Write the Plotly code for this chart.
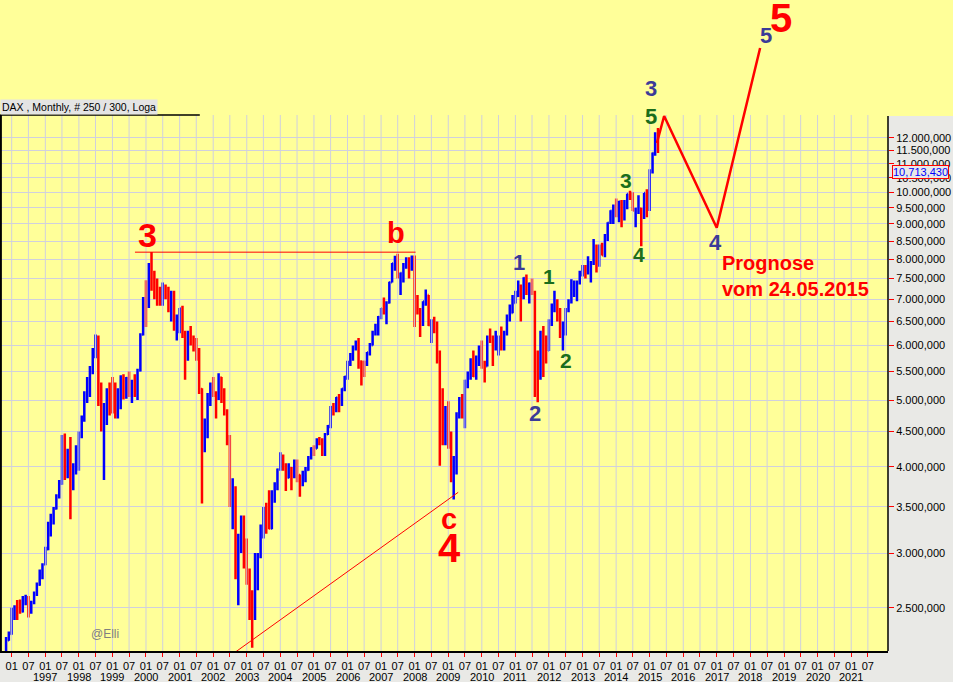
import math
import pandas as pd
import plotly.graph_objects as go

# ---------------- data (DAX monthly OHLC, Nov 1995 - Apr 2015) ----------------
months = pd.date_range("1995-11-01", "2015-04-01", freq="MS")

opens = [
    2155, 2244,
    2290, 2420, 2480, 2500, 2470, 2540, 2580, 2470, 2540, 2620, 2700, 2800,
    2889, 3040, 3300, 3380, 3480, 3620, 3780, 4400, 3950, 4150, 3800, 4000,
    4250, 4450, 4700, 5100, 5150, 5550, 5900, 6150, 5100, 4600, 4650, 5050,
    5050, 4950, 4750, 4880, 5390, 5150, 5380, 5100, 5280, 5150, 5520, 6220,
    6958, 6835, 7644, 7599, 7414, 7110, 6898, 7190, 7186, 6798, 7078, 6372,
    6434, 6795, 6208, 5830, 6265, 6123, 6059, 5862, 5188, 4308, 4560, 5045,
    5160, 5108, 5039, 5397, 5041, 4818, 4383, 3700, 3712, 2769, 3153, 3320,
    2893, 2748, 2547, 2424, 2942, 2982, 3221, 3487, 3485, 3257, 3656, 3746,
    3965, 4058, 4018, 3857, 3985, 3921, 4052, 3895, 3785, 3893, 3960, 4126,
    4256, 4255, 4350, 4349, 4185, 4460, 4587, 4887, 4829, 5044, 4929, 5193,
    5408, 5674, 5797, 5970, 6009, 5692, 5683, 5682, 5860, 6004, 6269, 6309,
    6597, 6789, 6716, 6917, 7409, 7884, 8007, 7584, 7638, 7862, 8019, 7871,
    8067, 6851, 6748, 6535, 6949, 7097, 6418, 6479, 6422, 5831, 4988, 4669,
    4810, 4338, 3844, 4085, 4770, 4941, 4809, 5332, 5458, 5675, 5415, 5625,
    5957, 5608, 5598, 6154, 6136, 5965, 5966, 6148, 5925, 6229, 6601, 6688,
    6914, 7077, 7273, 7041, 7514, 7294, 7376, 7159, 5785, 5502, 6141, 6089,
    5898, 6458, 6856, 6947, 6761, 6264, 6416, 6772, 6970, 7216, 7260, 7405,
    7612, 7776, 7741, 7795, 7914, 8349, 7959, 8276, 8103, 8594, 9033, 9406,
    9552, 9306, 9692, 9556, 9603, 9943, 9833, 9407, 9470, 9474, 9326, 9980,
    9806, 10694, 11402, 11966,
]
highs = [
    2268, 2310,
    2500, 2520, 2566, 2570, 2600, 2610, 2600, 2560, 2640, 2720, 2840, 2900,
    3065, 3330, 3420, 3500, 3650, 3830, 4450, 4470, 4250, 4420, 4050, 4300,
    4500, 4750, 5150, 5400, 5600, 5950, 6220, 6200, 5300, 4950, 5200, 5300,
    5400, 5300, 5200, 5430, 5450, 5400, 5500, 5350, 5450, 5550, 6250, 7050,
    7460, 7900, 8195, 7700, 7500, 7300, 7400, 7350, 7300, 7200, 7200, 6650,
    6800, 6850, 6300, 6300, 6400, 6200, 6150, 5950, 5200, 4700, 5120, 5300,
    5400, 5150, 5467, 5400, 5200, 4850, 4450, 3850, 3750, 3200, 3400, 3400,
    3150, 2850, 2650, 3000, 3000, 3300, 3500, 3550, 3700, 3700, 3800, 3980,
    4200, 4170, 4050, 4050, 4000, 4100, 4100, 3900, 3950, 4000, 4150, 4270,
    4300, 4400, 4420, 4400, 4480, 4600, 4900, 4950, 5050, 5100, 5200, 5420,
    5700, 5850, 6000, 6100, 6150, 5700, 5700, 5870, 6050, 6300, 6450, 6620,
    6800, 7040, 6950, 7420, 7900, 8090, 8150, 7650, 7900, 8050, 8050, 8100,
    8100, 7100, 6800, 6950, 7230, 7100, 6550, 6600, 6500, 5900, 5200, 4900,
    4980, 4500, 4150, 4800, 5050, 5100, 5350, 5500, 5750, 5900, 5800, 6000,
    6100, 5700, 6200, 6350, 6200, 6300, 6200, 6390, 6300, 6650, 6880, 7100,
    7200, 7450, 7350, 7530, 7600, 7400, 7500, 7200, 5900, 6300, 6400, 6200,
    6550, 6900, 7200, 7000, 6800, 6500, 6800, 7000, 7480, 7450, 7450, 7700,
    7850, 7850, 8080, 7950, 8557, 8400, 8400, 8450, 8700, 9050, 9420, 9600,
    9800, 9720, 9750, 9750, 9950, 10050, 10000, 9500, 9900, 9500, 9980, 10100,
    10800, 11420, 12220, 12390,
]
lows = [
    2150, 2240,
    2285, 2400, 2400, 2450, 2460, 2520, 2420, 2450, 2530, 2600, 2690, 2750,
    2880, 3030, 3170, 3300, 3470, 3600, 3770, 3830, 3850, 3360, 3700, 3900,
    3950, 4400, 4650, 4950, 5050, 5450, 5750, 4900, 4500, 3830, 4600, 4750,
    4780, 4700, 4700, 4850, 5010, 5020, 5050, 4950, 5050, 5000, 5500, 6200,
    6380, 6800, 7200, 7000, 6850, 6850, 6850, 7000, 6700, 6500, 6300, 6100,
    6250, 6150, 5350, 5700, 6000, 5880, 5700, 5100, 3539, 4200, 4400, 4900,
    5050, 4700, 5000, 4950, 4750, 4300, 3500, 3250, 2750, 2520, 3000, 2850,
    2700, 2400, 2188, 2400, 2650, 2950, 3150, 3200, 3250, 3250, 3550, 3700,
    3950, 3950, 3690, 3850, 3700, 3850, 3800, 3620, 3750, 3800, 3950, 4100,
    4150, 4250, 4300, 4150, 4150, 4450, 4550, 4750, 4800, 4800, 4900, 5150,
    5350, 5600, 5700, 5900, 5550, 5250, 5400, 5600, 5800, 6000, 6200, 6200,
    6550, 6650, 6440, 6900, 7400, 7700, 7500, 7100, 7400, 7750, 7500, 7700,
    6380, 6650, 6170, 6400, 6850, 6400, 6050, 6250, 5650, 4014, 4300, 4300,
    4250, 3800, 3588, 3900, 4700, 4700, 4550, 5200, 5350, 5400, 5350, 5600,
    5550, 5300, 5590, 6050, 5600, 5900, 5800, 5900, 5900, 6200, 6500, 6680,
    6900, 7050, 6500, 7000, 7100, 6900, 7100, 5050, 4965, 5350, 5400, 5650,
    5890, 6400, 6700, 6500, 6150, 5900, 6200, 6700, 6900, 7050, 6950, 7350,
    7550, 7500, 7600, 7400, 7850, 7650, 7800, 8100, 8050, 8500, 9000, 9000,
    9200, 9050, 8900, 9100, 9450, 9750, 9400, 8900, 9300, 8355, 9150, 9200,
    9400, 10650, 11300, 11400,
]
closes = [
    2244, 2290,
    2420, 2480, 2450, 2470, 2560, 2580, 2470, 2540, 2620, 2700, 2800, 2889,
    3040, 3300, 3380, 3480, 3620, 3780, 4400, 3950, 4150, 3800, 4000, 4250,
    4450, 4700, 5100, 5150, 5550, 5900, 6150, 5100, 4600, 4650, 5050, 5000,
    4950, 4750, 4880, 5390, 5150, 5380, 5100, 5280, 5150, 5520, 6220, 6958,
    6835, 7644, 7599, 7414, 7110, 6898, 7190, 7186, 6798, 7078, 6372, 6434,
    6795, 6208, 5830, 6265, 6123, 6059, 5862, 5188, 4308, 4560, 5045, 5160,
    5108, 5039, 5397, 5041, 4818, 4383, 3700, 3712, 2769, 3153, 3320, 2893,
    2748, 2547, 2424, 2942, 2982, 3221, 3487, 3485, 3257, 3656, 3746, 3965,
    4058, 4018, 3857, 3985, 3921, 4052, 3895, 3785, 3893, 3960, 4126, 4256,
    4255, 4350, 4349, 4185, 4460, 4587, 4887, 4829, 5044, 4929, 5193, 5408,
    5674, 5797, 5970, 6009, 5692, 5683, 5682, 5860, 6004, 6269, 6309, 6597,
    6789, 6716, 6917, 7409, 7884, 8007, 7584, 7638, 7862, 8019, 7871, 8067,
    6851, 6748, 6535, 6949, 7097, 6418, 6479, 6422, 5831, 4988, 4669, 4810,
    4338, 3844, 4085, 4770, 4941, 4809, 5332, 5458, 5675, 5415, 5625, 5957,
    5608, 5598, 6154, 6136, 5965, 5966, 6148, 5925, 6229, 6601, 6688, 6914,
    7077, 7273, 7041, 7514, 7294, 7376, 7159, 5785, 5502, 6141, 6089, 5898,
    6458, 6856, 6947, 6761, 6264, 6416, 6772, 6970, 7216, 7260, 7405, 7612,
    7776, 7741, 7795, 7914, 8349, 7959, 8276, 8103, 8594, 9033, 9406, 9552,
    9306, 9692, 9556, 9603, 9943, 9833, 9407, 9470, 9474, 9326, 9980, 9806,
    10694, 11402, 11966, 11454,
]

# Elliott-wave drawing lines
b_line_dates = ["1999-09-03", "2008-01-12"]
b_line_values = [8190, 8190]
trend_dates = ["2002-05-02", "2009-04-19"]
trend_values = [2100, 3675]
forecast_dates = ["2015-03-20", "2015-06-07", "2016-12-30", "2018-04-16"]
forecast_values = [11790, 12900, 8887, 16190]

# wave labels: text, date, value, size, colour
RED, BLUE, GREEN = "#ff0000", "#3b3b98", "#1b6e1b"
label_texts = ["3", "b", "a", "c", "4", "5", "1", "2", "1", "2", "3", "4", "5", "3", "4", "5"]
label_dates = ["2000-01-22", "2007-06-11", "2003-03-07", "2009-01-10", "2009-01-10", "2018-11-30",
               "2011-02-10", "2011-08-01", "2012-01-01", "2012-07-04", "2014-04-16", "2014-09-06",
               "2015-01-16", "2015-01-16", "2016-12-22", "2018-06-19"]
label_values = [8675, 8733, 2157, 3362, 3052, 17900,
                7900, 4773, 7541, 5715, 10420, 8117,
                12860, 14165, 8445, 16850]
label_sizes = [34, 29, 30, 29, 40, 40, 22, 22, 21, 21, 21, 21, 22, 22, 22, 22]
label_colors = [RED, RED, RED, RED, RED, RED, BLUE, BLUE, GREEN, GREEN, GREEN, GREEN,
                GREEN, BLUE, BLUE, BLUE]

# axis ticks
y_tick_values = [2500, 3000, 3500, 4000, 4500, 5000, 5500, 6000, 6500, 7000, 7500,
                 8000, 8500, 9000, 9500, 10000, 10500, 11000, 11500, 12000]
y_tick_text = [f"{v // 1000}.{v % 1000:03d},000" for v in y_tick_values]
x_tick_values = []
x_tick_text = []
for yr in range(1996, 2022):
    x_tick_values += [f"{yr}-01-01", f"{yr}-07-01"]
    x_tick_text += ["01", "07"]
year_labels = [str(yr) for yr in range(1997, 2022)]
year_label_dates = [f"{yr}-01-01" for yr in range(1997, 2022)]

last_price_value = 10713.43
last_price_text = "10,713,430"

FONT = "Liberation Sans, Arial, sans-serif"
YELLOW = "#ffff99"
GRAY = "#e9e9e6"
GRID = "#d0d0de"

Y_LOG_RANGE = [3.33527, 4.27875]
FRAME_TOP_LOG = 4.11208          # top edge of the chart frame (below the yellow note band)

# ---------------- figure ----------------
fig = go.Figure()

# vertical grid lines only inside the chart frame
grid_x, grid_y = [], []
for d in x_tick_values:
    grid_x += [d, d, None]
    grid_y += [10 ** Y_LOG_RANGE[0], 10 ** FRAME_TOP_LOG, None]
fig.add_trace(go.Scatter(x=grid_x, y=grid_y, mode="lines", line=dict(color=GRID, width=1),
                         showlegend=False, hoverinfo="skip"))

fig.add_trace(go.Ohlc(
    x=months, open=opens, high=highs, low=lows, close=closes,
    increasing=dict(line=dict(color="#0000ff", width=2.5)),
    decreasing=dict(line=dict(color="#ff0000", width=2.5)),
    tickwidth=0.35, showlegend=False, hoverinfo="skip"))
fig.add_trace(go.Scatter(x=b_line_dates, y=b_line_values, mode="lines",
                         line=dict(color=RED, width=1), showlegend=False, hoverinfo="skip"))
fig.add_trace(go.Scatter(x=trend_dates, y=trend_values, mode="lines",
                         line=dict(color=RED, width=1), showlegend=False, hoverinfo="skip"))
fig.add_trace(go.Scatter(x=forecast_dates, y=forecast_values, mode="lines",
                         line=dict(color=RED, width=2.5), showlegend=False, hoverinfo="skip"))

annotations = []
for t, d, v, s, c in zip(label_texts, label_dates, label_values, label_sizes, label_colors):
    annotations.append(dict(x=d, y=math.log10(v), xref="x", yref="y", text=f"<b>{t}</b>",
                            showarrow=False, font=dict(family=FONT, size=s, color=c),
                            xanchor="center", yanchor="middle"))
for t, d in zip(year_labels, year_label_dates):
    annotations.append(dict(x=d, y=-25.5 / 651, xref="x", yref="paper", text=t, showarrow=False,
                            xanchor="center", yanchor="middle",
                            font=dict(family=FONT, size=11, color="black")))
annotations.append(dict(x="2017-02-05", y=math.log10(7567), xref="x", yref="y",
                        text="<b>Prognose<br>vom 24.05.2015</b>", showarrow=False, align="left",
                        font=dict(family=FONT, size=20, color=RED), xanchor="left", yanchor="middle"))
annotations.append(dict(x="1998-10-10", y=math.log10(2290), xref="x", yref="y", text="@Elli",
                        showarrow=False, font=dict(family=FONT, size=12, color="#808080")))
annotations.append(dict(x=1.004, y=math.log10(last_price_value), xref="paper", yref="y",
                        text=last_price_text, showarrow=False, xanchor="left", yanchor="middle",
                        font=dict(family=FONT, size=11, color="#0000ff"), bgcolor=GRAY,
                        bordercolor="#ff0000", borderwidth=1, borderpad=0))
annotations.append(dict(x=0, y=1 - 107 / 651, xref="paper", yref="paper",
                        text="DAX , Monthly, # 250 / 300, Loga", showarrow=False,
                        xanchor="left", yanchor="middle", bgcolor="#e4e4e4", borderpad=1,
                        font=dict(family=FONT, size=10.5, color="black")))

top_frac = 1 - 115 / 651
shapes = [
    dict(type="rect", xref="paper", yref="paper", x0=1, x1=1.08, y0=1 - 116 / 651, y1=1.02,
         fillcolor=YELLOW, line=dict(width=0), layer="below"),
    # frame
    dict(type="line", xref="paper", yref="paper", x0=0.001, x1=0.001, y0=0, y1=top_frac,
         line=dict(color="black", width=2), layer="above"),
    dict(type="line", xref="paper", yref="paper", x0=1, x1=1, y0=0, y1=1 - 116 / 651,
         line=dict(color="black", width=1.5), layer="above"),
    dict(type="line", xref="paper", yref="paper", x0=0, x1=0.225, y0=top_frac, y1=top_frac,
         line=dict(color="black", width=1.5), layer="above"),
]

fig.update_layout(
    width=953, height=682,
    margin=dict(l=0, r=65, t=0, b=31),
    paper_bgcolor=GRAY, plot_bgcolor=YELLOW,
    font=dict(family=FONT, size=11, color="black"),
    showlegend=False,
    annotations=annotations, shapes=shapes,
    xaxis=dict(type="date", range=["1995-08-27", "2022-02-05"],
               rangeslider=dict(visible=False),
               tickmode="array", tickvals=x_tick_values, ticktext=x_tick_text, tickangle=0,
               ticks="outside", ticklen=4, tickcolor="#ff0000", tickwidth=1,
               tickfont=dict(family=FONT, size=11, color="black"),
               showgrid=False, showline=True, linecolor="black", linewidth=2, zeroline=False),
    yaxis=dict(type="log", side="right", range=Y_LOG_RANGE,
               tickmode="array", tickvals=y_tick_values, ticktext=y_tick_text,
               ticks="outside", ticklen=5, tickcolor="#ff0000", tickwidth=1,
               tickfont=dict(family=FONT, size=11, color="black"),
               showgrid=True, gridcolor=GRID, gridwidth=1,
               showline=False, zeroline=False),
)

fig.write_html("out.html",
               config={"displayModeBar": False},
               post_script="document.body.style.margin='0';document.body.style.overflow='hidden';")
